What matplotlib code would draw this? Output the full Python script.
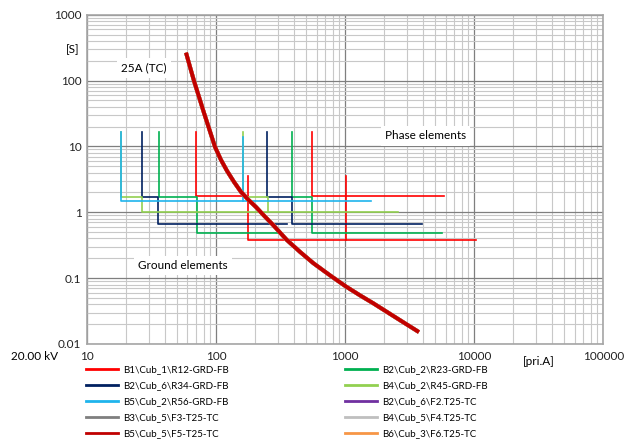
import matplotlib.pyplot as plt
import matplotlib
from matplotlib.ticker import LogLocator, NullFormatter, FixedLocator, FixedFormatter

matplotlib.rcParams['font.family'] = ['Lato', 'DejaVu Sans']
matplotlib.rcParams['font.size'] = 8

# fuse 25A time-current curve (I [pri.A], t [s])
fuse_i = [58.46, 62.8, 67.44, 73.73, 80.6, 88.9, 98.06, 109.1, 121.5, 137.6, 155.9,
          177.6, 203.8, 235.0, 275.9, 352.4, 446.6, 566.2, 762.6, 1014, 1302, 1651,
          2223, 2906, 3730]
fuse_t = [265.1, 160.8, 98.6, 56.4, 32.2, 17.8, 9.83, 6.24, 4.25, 2.89, 2.04,
          1.55, 1.2, 0.89, 0.644, 0.381, 0.2506, 0.1689, 0.1103, 0.0746, 0.0548,
          0.0415, 0.0287, 0.0206, 0.01516]

# relay definite-time steps: (currents, times) per path
r12_paths = [([69.9, 69.9, 175.7], [16.8, 1.78, 1.78]),
             ([175.7, 175.7, 10250], [3.6, 0.377, 0.377]),
             ([550, 550, 5826], [16.8, 1.78, 1.78]),
             ([1009, 1009], [3.6, 0.377])]
r23_paths = [([36.3, 36.3, 70.7, 70.7, 301.7], [16.8, 1.72, 1.72, 0.492, 0.492]),
             ([385, 385, 556, 556, 5620], [16.8, 1.72, 1.72, 0.492, 0.492])]
r34_paths = [([26.8, 26.8, 35.3, 35.3, 352], [16.8, 1.72, 1.72, 0.667, 0.667]),
             ([246.6, 246.6, 385, 385, 3935], [16.8, 1.72, 1.72, 0.667, 0.667])]
r45_paths = [([18.34, 18.34, 26.8, 26.8, 253.7], [16.8, 1.72, 1.72, 1.0, 1.0]),
             ([160.7, 160.7, 253.7, 253.7, 2565], [16.8, 1.72, 1.72, 1.0, 1.0])]
r56_paths = [([18.34, 18.34, 1585], [16.8, 1.47, 1.47]),
             ([160.7, 160.7], [14.1, 1.47])]

relays = [('B1\\Cub_1\\R12-GRD-FB', '#ff0000', r12_paths),
          ('B2\\Cub_2\\R23-GRD-FB', '#00b050', r23_paths),
          ('B2\\Cub_6\\R34-GRD-FB', '#002060', r34_paths),
          ('B4\\Cub_2\\R45-GRD-FB', '#92d050', r45_paths),
          ('B5\\Cub_2\\R56-GRD-FB', '#1fb4ec', r56_paths)]
fuses = [('B2\\Cub_6\\F2.T25-TC', '#7030a0'),
         ('B3\\Cub_5\\F3-T25-TC', '#7f7f7f'),
         ('B4\\Cub_5\\F4.T25-TC', '#bfbfbf'),
         ('B6\\Cub_3\\F6.T25-TC', '#f79646'),
         ('B5\\Cub_5\\F5-T25-TC', '#c00000')]

x_ticks = [10, 100, 1000, 10000, 100000]
y_ticks = [0.01, 0.1, 1, 10, 100, 1000]

fig = plt.figure(figsize=(6.27, 4.41), dpi=100)
ax = fig.add_axes([0.1388, 0.2200, 0.8234, 0.7467])
ax.set_xscale('log')
ax.set_yscale('log')
ax.set_xlim(10, 100000)
ax.set_ylim(0.01, 1000)

handles = {}
for name, col, paths in relays:
    for xs, ys in paths:
        ax.plot(xs, ys, color=col, lw=1.2, zorder=3)
    handles[name] = col
for name, col in fuses:
    z = 5 if name.startswith('B5') else 4
    ax.plot(fuse_i, fuse_t, color=col, lw=2.8, zorder=z,
            solid_capstyle='butt', solid_joinstyle='round')
    handles[name] = col

ax.xaxis.set_major_locator(FixedLocator(x_ticks))
ax.xaxis.set_major_formatter(FixedFormatter([str(v) for v in x_ticks]))
ax.yaxis.set_major_locator(FixedLocator(y_ticks))
ax.yaxis.set_major_formatter(FixedFormatter(['0.01', '0.1', '1', '10', '100', '1000']))
ax.xaxis.set_minor_locator(LogLocator(base=10, subs=range(2, 10), numticks=20))
ax.yaxis.set_minor_locator(LogLocator(base=10, subs=range(2, 10), numticks=20))
ax.xaxis.set_minor_formatter(NullFormatter())
ax.yaxis.set_minor_formatter(NullFormatter())
ax.tick_params(which='both', length=0)
ax.tick_params(axis='x', pad=5, labelsize=8.5, colors='#222222')
ax.tick_params(axis='y', pad=4, labelsize=8.5, colors='#222222')
ax.grid(which='major', color='#7f7f7f', lw=0.9)
ax.grid(which='minor', color='#c8c8c8', lw=0.8)
ax.set_axisbelow(True)
for s in ax.spines.values():
    s.set_color('#a6a6a6')
    s.set_linewidth(1.2)

box = dict(facecolor='white', edgecolor='none', pad=3)
ax.text(27.6, 155, '25A (TC)', ha='center', va='center', fontsize=8.5, bbox=box, zorder=6)
ax.text(4203, 14.4, 'Phase elements', ha='center', va='center', fontsize=8.5, bbox=box, zorder=6)
ax.text(55.1, 0.154, 'Ground elements', ha='center', va='center', fontsize=8.5, bbox=box, zorder=6)
ax.text(-0.027, 0.893, '[S]', transform=ax.transAxes, ha='center', va='center', fontsize=8.5)
ax.text(31623, 0.0055, '[pri.A]', ha='center', va='center', fontsize=8.5)
fig.text(35 / 627, 1 - 356 / 441, '20.00 kV', ha='center', va='center', fontsize=8.5)

left = ['B1\\Cub_1\\R12-GRD-FB', 'B2\\Cub_6\\R34-GRD-FB', 'B5\\Cub_2\\R56-GRD-FB',
        'B3\\Cub_5\\F3-T25-TC', 'B5\\Cub_5\\F5-T25-TC']
right = ['B2\\Cub_2\\R23-GRD-FB', 'B4\\Cub_2\\R45-GRD-FB', 'B2\\Cub_6\\F2.T25-TC',
         'B4\\Cub_5\\F4.T25-TC', 'B6\\Cub_3\\F6.T25-TC']
for names, x0 in [(left, 86 / 627), (right, 345 / 627)]:
    hs = [plt.Line2D([], [], color=handles[n], lw=2.0) for n in names]
    fig.legend(hs, names, loc='upper left', bbox_to_anchor=(x0, 1 - 365 / 441),
               frameon=False, fontsize=7, handlelength=3.3, handletextpad=0.55,
               labelspacing=0.72, borderpad=0, borderaxespad=0)

fig.savefig('out.png', dpi=100)
